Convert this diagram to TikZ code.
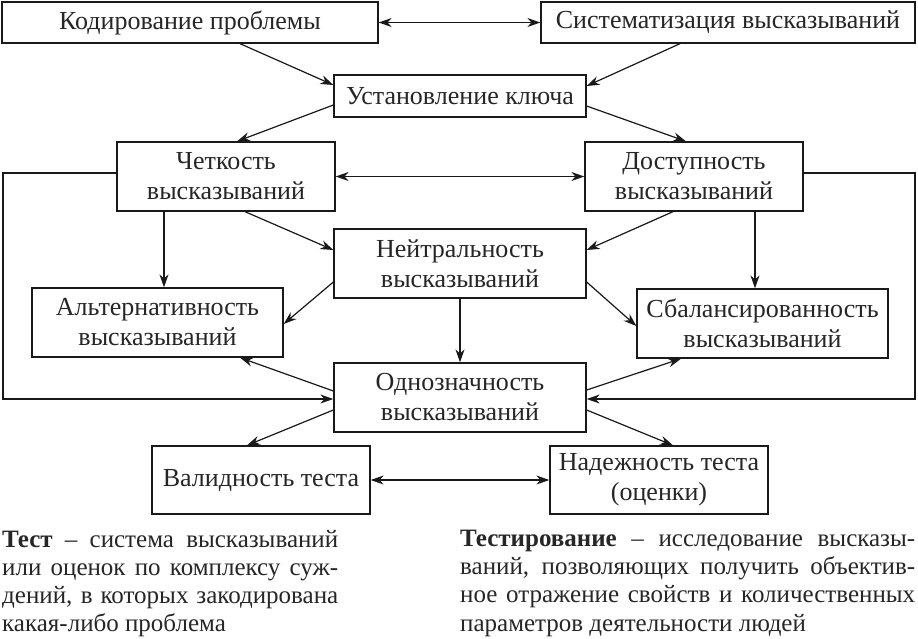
\documentclass[tikz,border=0pt]{standalone}
\usepackage{fontspec}
\setmainfont{Liberation Serif}
\usetikzlibrary{arrows.meta,calc}
\begin{document}
\begin{tikzpicture}[x=1pt,y=-1pt,
 box/.style={draw=black!90, line width=1.3pt, inner sep=0pt, align=center, font=\fontsize{26}{30}\selectfont, text=black!85},
 arr/.style={-{Stealth[length=13pt,width=9pt]}, line width=1.2pt, draw=black!90},
 darr/.style={{Stealth[length=13pt,width=9pt]}-{Stealth[length=13pt,width=9pt]}, line width=1.2pt, draw=black!90},
 para/.style={inner sep=0pt, align=left, font=\fontsize{25}{28.2}\selectfont, text=black!85, anchor=north west}]
\useasboundingbox (0,0) rectangle (918,638);
\fill[white] (0,0) rectangle (918,638);
% nodes
\node[box, minimum width=376pt, minimum height=41pt] (kod) at (190,22.5) {Кодирование проблемы};
\node[box, minimum width=374pt, minimum height=41pt] (sys) at (728,22.5) {Систематизация высказываний};
\node[box, minimum width=252pt, minimum height=42pt] (ust) at (460,96) {Установление ключа};
\node[box, minimum width=218pt, minimum height=69pt] (chet) at (226,176.5) {Четкость\\высказываний};
\node[box, minimum width=218pt, minimum height=69pt] (dost) at (694,176.5) {Доступность\\высказываний};
\node[box, minimum width=252pt, minimum height=69pt] (neit) at (460,263.5) {Нейтральность\\высказываний};
\node[box, minimum width=251pt, minimum height=69pt] (alt) at (157.5,322.5) {Альтернативность\\высказываний};
\node[box, minimum width=251pt, minimum height=69pt] (sbal) at (762.5,323.5) {Сбалансированность\\высказываний};
\node[box, minimum width=252pt, minimum height=69pt] (odn) at (460,397.5) {Однозначность\\высказываний};
\node[box, minimum width=218pt, minimum height=68pt] (val) at (261,480) {Валидность теста};
\node[box, minimum width=218pt, minimum height=68pt] (nad) at (659,480) {Надежность теста\\(оценки)};
% paragraphs
\node[para] (test) at (2,530) {\makebox[336pt][s]{\textbf{Тест} – система высказываний}\\
\makebox[336pt][s]{или оценок по комплексу суж-}\\
\makebox[336pt][s]{дений, в которых закодирована}\\
какая-либо проблема};
\node[para] (testir) at (460,530) {\makebox[455pt][s]{\textbf{Тестирование} – исследование высказы-}\\
\makebox[455pt][s]{ваний, позволяющих получить объектив-}\\
\makebox[455pt][s]{ное отражение свойств и количественных}\\
параметров деятельности людей};
% loop coordinates
\coordinate (lA) at (3,173);
\coordinate (lB) at (3,399);
\coordinate (rA) at (915,173);
\coordinate (rB) at (915,399);
% connectors
\draw[darr] (kod.east) -- (sys.west);
\draw[arr] ([xshift=50pt]kod.south) -- ([yshift=11pt]ust.west);
\draw[arr] ([xshift=-48pt]sys.south) -- ([yshift=10pt]ust.east);
\draw[arr] ([yshift=-9pt]ust.west) -- ([xshift=11pt]chet.north);
\draw[arr] ([yshift=-10pt]ust.east) -- ([xshift=-8pt]dost.north);
\draw[darr] (chet.east) -- (dost.west);
\draw[arr] (chet.west |- lA) -- (lA) -- (lB) -- (odn.west |- lB);
\draw[arr] (dost.east |- rA) -- (rA) -- (rB) -- (odn.east |- rB);
\draw[arr] ([xshift=19pt]chet.south) -- ([yshift=13.5pt]neit.west);
\draw[arr] ([xshift=-21pt]dost.south) -- ([yshift=13.5pt]neit.east);
\draw[arr] ([xshift=-62pt]chet.south) -- ([xshift=-62pt]chet.south |- alt.north);
\draw[arr] ([xshift=61pt]dost.south) -- ([xshift=61pt]dost.south |- sbal.north);
\draw[arr] ([yshift=-18.5pt]neit.west) -- ([yshift=-1.5pt]alt.east);
\draw[arr] ([yshift=-18.5pt]neit.east) -- ([yshift=-2.5pt]sbal.west);
\draw[arr] (neit.south) -- (odn.north);
\draw[arr] ([yshift=6.5pt]odn.west) -- ([xshift=82.5pt]alt.south);
\draw[arr] ([yshift=7.5pt]odn.east) -- ([xshift=-81.5pt]sbal.south);
\draw[arr] ([yshift=-12.5pt]odn.west) -- ([xshift=-14pt]val.north);
\draw[arr] ([yshift=-12.5pt]odn.east) -- ([xshift=14pt]nad.north);
\draw[darr] (val.east) -- (nad.west);
\end{tikzpicture}
\end{document}
